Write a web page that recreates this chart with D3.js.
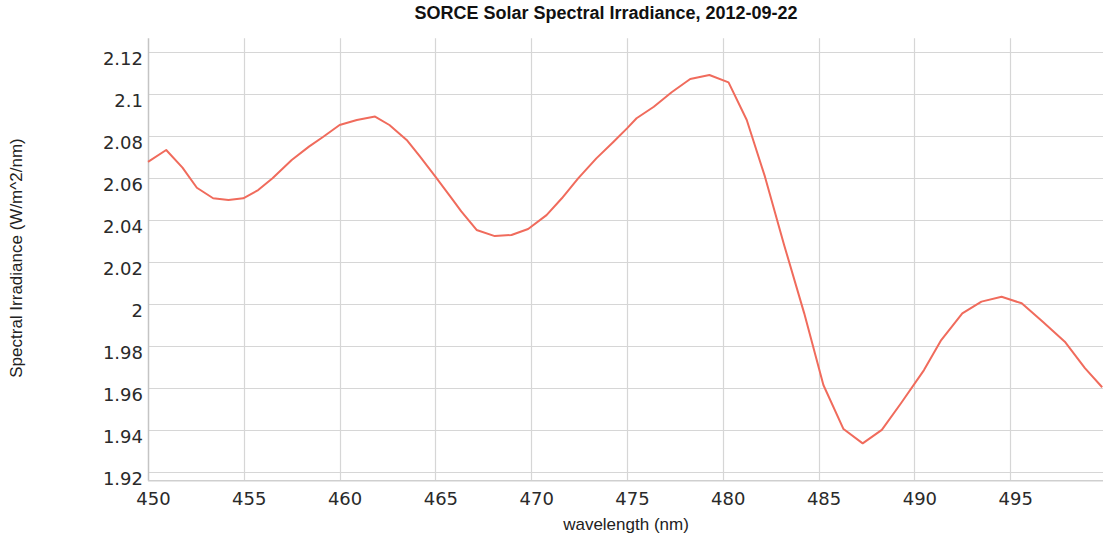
<!DOCTYPE html>
<html>
<head>
<meta charset="utf-8">
<script src="https://cdn.jsdelivr.net/npm/d3@7"></script>
<style>
  html, body { margin: 0; padding: 0; background: #fff; overflow: hidden; }
  svg { display: block; }
</style>
</head>
<body>
<svg id="chart" width="1103" height="539"></svg>
<script>
// wavelength (nm) and irradiance (W/m^2/nm)
const wavelength = [
  450.0, 450.95, 451.8, 452.55, 453.4, 454.2, 454.97, 455.75, 456.5, 457.5,
  458.4, 459.15, 460.0, 460.9, 461.85, 462.6, 463.5, 464.2, 465.0, 465.85,
  466.35, 467.15, 468.1, 468.97, 469.84, 470.8, 471.6, 472.45, 473.4, 474.3,
  475.0, 475.5, 476.4, 477.33, 478.3, 479.3, 480.3, 481.25, 482.2, 483.2,
  484.25, 485.25, 486.3, 487.3, 488.3, 489.3, 490.5, 491.4, 492.5, 493.5,
  494.55, 495.6, 496.7, 497.85, 498.9, 499.8
];
const irradiance = [
  2.0675, 2.0732, 2.0648, 2.0552, 2.0502, 2.0494, 2.0502, 2.0541, 2.0597, 2.0684,
  2.0748, 2.0795, 2.0851, 2.0875, 2.0891, 2.0851, 2.0780, 2.0700, 2.0605, 2.0502,
  2.0440, 2.0351, 2.0322, 2.0327, 2.0356, 2.0422, 2.0502, 2.0597, 2.0692, 2.0771,
  2.0835, 2.0883, 2.0938, 2.1007, 2.1070, 2.1089, 2.1054, 2.0875, 2.0605, 2.0280,
  1.9954, 1.9613, 1.9403, 1.9335, 1.9399, 1.9526, 1.9684, 1.9827, 1.9954, 2.0010,
  2.0033, 2.0002, 1.9914, 1.9819, 1.9693, 1.9602
];

const xTicks = [450, 455, 460, 465, 470, 475, 480, 485, 490, 495, 500];
const yTicks = [1.92, 1.94, 1.96, 1.98, 2.0, 2.02, 2.04, 2.06, 2.08, 2.1, 2.12];

const chartTitle = 'SORCE Solar Spectral Irradiance, 2012-09-22';
const xLabel = 'wavelength (nm)';
const yLabel = 'Spectral Irradiance (W/m^2/nm)';

const svg = d3.select('#chart');
const width = 1103, height = 539;
const plotLeft = 148, plotRight = 1106, plotTop = 38.3, plotBottom = 480.7;

const x = d3.scaleLinear().domain([450, 500]).range([plotLeft, plotRight]);
// 1.92 sits at 471.7px and 2.12 at 51.7px
const y = d3.scaleLinear().domain([1.92, 2.12]).range([471.7, 51.7]);

const data = wavelength.map((w, i) => ({ w, v: irradiance[i] }));

// grid
const grid = svg.append('g');
grid.selectAll('line.vg')
  .data(xTicks.slice(1))
  .enter().append('line')
  .attr('class', 'vg')
  .attr('x1', d => Math.round(x(d)) + 0.5)
  .attr('x2', d => Math.round(x(d)) + 0.5)
  .attr('y1', plotTop)
  .attr('y2', plotBottom)
  .attr('stroke', '#d6d6d6')
  .attr('stroke-width', 1.2);

grid.selectAll('line.hg')
  .data(yTicks)
  .enter().append('line')
  .attr('class', 'hg')
  .attr('x1', plotLeft)
  .attr('x2', width)
  .attr('y1', d => Math.round(y(d)) + 0.5)
  .attr('y2', d => Math.round(y(d)) + 0.5)
  .attr('stroke', '#d6d6d6')
  .attr('stroke-width', 1.2);

// axis lines
svg.append('line')
  .attr('x1', plotLeft + 0.5).attr('x2', plotLeft + 0.5)
  .attr('y1', plotTop).attr('y2', plotBottom)
  .attr('stroke', '#c4c4c4').attr('stroke-width', 1.5);
svg.append('line')
  .attr('x1', plotLeft).attr('x2', width)
  .attr('y1', plotBottom).attr('y2', plotBottom)
  .attr('stroke', '#cfcfcf').attr('stroke-width', 1.5);

// tick labels
const fmt = d3.format('.2~f');
svg.append('g').selectAll('text')
  .data(yTicks)
  .enter().append('text')
  .attr('x', plotLeft - 5)
  .attr('y', d => y(d) + 13)
  .attr('text-anchor', 'end')
  .style('font-family', 'DejaVu Sans, Verdana, sans-serif')
  .style('font-size', '18px')
  .style('fill', '#2a2a2a')
  .text(d => fmt(d));

svg.append('g').selectAll('text')
  .data(xTicks.slice(0, -1))
  .enter().append('text')
  .attr('x', d => x(d) + 5.5)
  .attr('y', 505)
  .attr('text-anchor', 'middle')
  .style('font-family', 'DejaVu Sans, Verdana, sans-serif')
  .style('font-size', '18px')
  .style('fill', '#2a2a2a')
  .text(d => d);

// line
const line = d3.line()
  .x(d => x(d.w))
  .y(d => y(d.v));

svg.append('path')
  .datum(data)
  .attr('d', line)
  .attr('fill', 'none')
  .attr('stroke', '#f06b5c')
  .attr('stroke-width', 2)
  .attr('stroke-linejoin', 'round');

// titles
svg.append('text')
  .attr('x', 606)
  .attr('y', 19)
  .attr('text-anchor', 'middle')
  .style('font-family', 'Liberation Sans, Arial, sans-serif')
  .style('font-weight', 'bold')
  .style('font-size', '18px')
  .style('fill', '#111')
  .text(chartTitle);

svg.append('text')
  .attr('x', 626)
  .attr('y', 530)
  .attr('text-anchor', 'middle')
  .style('font-family', 'Liberation Sans, Arial, sans-serif')
  .style('font-size', '17px')
  .style('fill', '#222')
  .text(xLabel);

svg.append('text')
  .attr('transform', 'translate(22,258) rotate(-90)')
  .attr('text-anchor', 'middle')
  .style('font-family', 'Liberation Sans, Arial, sans-serif')
  .style('font-size', '17px')
  .style('fill', '#222')
  .text(yLabel);
</script>
</body>
</html>
